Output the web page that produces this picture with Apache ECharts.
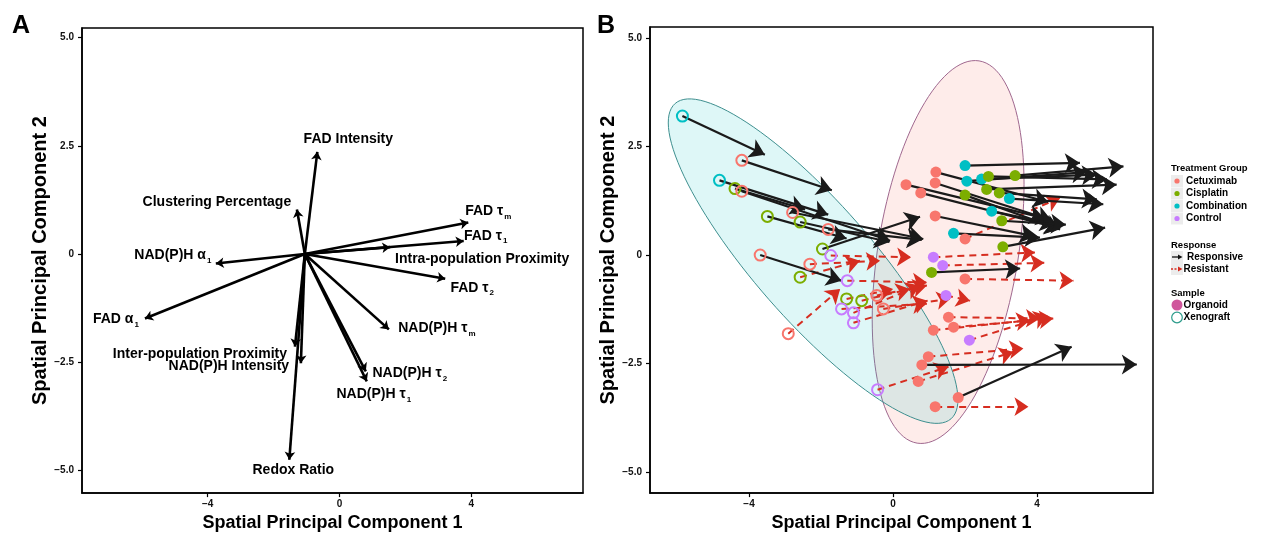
<!DOCTYPE html>
<html><head><meta charset="utf-8">
<script src="https://cdn.jsdelivr.net/npm/echarts@6/dist/echarts.min.js"></script>
<style>html,body{margin:0;padding:0;background:#fff}#c{width:1270px;height:537px}</style>
</head><body><div id="c"></div><script>
// ---------- Panel A: loading vectors ----------
const loadingOrigin = [-1.05, 0];
const loadingNames = ['FAD Intensity','Clustering Percentage','FAD τ','FAD τ','Intra-population Proximity','NAD(P)H α','FAD τ','FAD α','NAD(P)H τ','Inter-population Proximity','NAD(P)H Intensity','NAD(P)H τ','NAD(P)H τ','Redox Ratio'];
const loadingSubs = ['','','m','1','','1','2','1','m','','','2','1',''];
const loadingX = [-0.67,-1.29,3.91,3.77,1.54,-3.75,3.21,-5.90,1.50,-1.35,-1.17,0.80,0.83,-1.52];
const loadingY = [2.36,1.03,0.73,0.30,0.16,-0.22,-0.57,-1.49,-1.74,-2.14,-2.52,-2.71,-2.94,-4.75];

// ---------- Panel B: sample trajectories ----------
const startX = [-5.85,-4.20,-4.82,-4.39,-4.20,-2.79,-3.49,-2.58,-1.80,-1.96,-3.69,-1.73,-2.31,-2.58,-1.27,-1.29,-0.87,-0.45,-1.43,-1.10,-1.10,-0.27,-2.91,-0.43,
  2.00,3.39,2.05,2.46,2.65,2.60,2.95,3.23,2.00,1.19,1.17,0.36,0.77,1.17,1.68,2.74,3.02,2.00,3.05,1.12,1.38,1.07,2.00,1.47,1.54,1.68,1.12,2.12,0.98,0.80,0.70,1.81,1.17];
const startY = [3.20,2.18,1.72,1.53,1.47,0.98,0.89,0.76,0.59,0.14,0.00,-0.01,-0.21,-0.51,-0.59,-1.01,-1.05,-0.93,-1.24,-1.33,-1.56,-1.24,-1.81,-3.10,
  2.06,1.83,1.70,1.75,1.81,1.51,1.43,1.30,1.38,1.91,1.66,1.62,1.43,0.90,0.50,1.01,0.79,0.37,0.19,-0.05,-0.24,-0.40,-0.55,-0.93,-1.43,-1.66,-1.73,-1.96,-2.34,-2.53,-2.91,-3.28,-3.49];
const endX = [-3.56,-1.70,-1.80,-2.44,-0.08,0.84,-1.29,-0.10,0.80,0.75,-1.43,0.50,-0.36,-0.92,0.94,0.00,0.47,0.94,0.94,0.75,0.96,1.60,-1.47,1.54,
  5.19,6.40,5.38,5.66,5.94,6.21,5.66,5.84,4.64,4.31,4.40,4.20,4.64,3.94,4.08,4.50,4.80,4.64,5.89,3.94,4.20,3.53,5.01,2.14,4.08,4.45,3.81,4.30,3.62,6.77,3.34,4.96,3.76];
const endY = [2.31,1.49,0.93,1.05,0.33,0.37,0.38,0.30,0.35,0.88,-0.59,-0.05,-0.13,-0.13,-0.63,-0.78,-0.78,-0.70,-1.12,-0.70,-1.05,-1.00,-0.78,-2.57,
  2.12,2.04,1.91,1.85,1.74,1.62,1.28,1.17,0.59,1.22,0.80,0.85,0.61,0.43,0.40,0.70,0.70,1.32,0.63,0.06,-0.18,-0.31,-0.59,-1.05,-1.46,-1.46,-1.50,-1.40,-2.15,-2.52,-2.23,-2.11,-3.49];
const treatment = ['Combination','Cetuximab','Combination','Cisplatin','Cetuximab','Cetuximab','Cisplatin','Cisplatin','Cetuximab','Cisplatin','Cetuximab','Control','Cetuximab','Cisplatin','Control','Cisplatin','Cisplatin','Cetuximab','Control','Control','Control','Cetuximab','Cetuximab','Control',
  'Combination','Cisplatin','Combination','Combination','Cisplatin','Cisplatin','Cisplatin','Combination','Cisplatin','Cetuximab','Cetuximab','Cetuximab','Cetuximab','Cetuximab','Combination','Combination','Cisplatin','Cetuximab','Cisplatin','Control','Control','Cisplatin','Cetuximab','Control','Cetuximab','Cetuximab','Cetuximab','Control','Cetuximab','Cetuximab','Cetuximab','Cetuximab','Cetuximab'];
const sample = Array(24).fill('Xenograft').concat(Array(33).fill('Organoid'));
const response = Array(11).fill('Responsive').concat(Array(13).fill('Resistant'),
  ['Responsive','Responsive','Responsive','Responsive','Responsive','Responsive','Responsive','Responsive','Responsive','Responsive','Responsive','Responsive','Responsive','Responsive','Responsive','Responsive','Responsive',
   'Resistant','Responsive','Resistant','Resistant','Responsive','Resistant','Resistant','Resistant','Resistant','Resistant','Resistant','Resistant','Responsive','Resistant','Responsive','Resistant']);

// confidence ellipses (centre, two conjugate semi-axis vectors, data units)
const ellipseNames = ['Organoid','Xenograft'];
const ellipseCenter = [[1.53,0.07],[-2.22,-0.14]];
const ellipseAxisU = [[0.86,4.40],[3.83,-3.63]];
const ellipseAxisV = [[1.925,-0.256],[1.23,0.88]];

const xTicks = [-4,0,4];
const yTicks = [-5,-2.5,0,2.5,5];
const treatments = ['Cetuximab','Cisplatin','Combination','Control'];
const treatColors = ['#F8766D','#7CAE00','#00BFC4','#C77CFF'];

// ---------- layout / style ----------
const F = '"Liberation Sans", Arial, Helvetica, sans-serif';
const labelOffsets = [[31,-13],[-80,-7],[20,-11],[22,-5],[92,12],[-43,-8],[27,9],[-29,1],[48,-1],[-95,7],[-72,3],[44,2],[7,13],[4,10]];
const colorOf = t => treatColors[treatments.indexOf(t)];
const minus = s => String(s).replace('-', '\u2212');

function xAxisCfg(gi, min, max) {
  return {gridIndex: gi, type: 'value', min, max, name: 'Spatial Principal Component 1', nameLocation: 'middle', nameGap: 17,
    nameTextStyle: {fontFamily: F, fontWeight: 'bold', fontSize: 18, color: '#000'},
    axisLine: {onZero: false, lineStyle: {color: '#000', width: 1.5}},
    axisTick: {show: true, length: 4, customValues: xTicks, lineStyle: {color: '#000', width: 1.2}},
    axisLabel: {customValues: xTicks, margin: 6, fontFamily: F, fontWeight: 'bold', fontSize: 10, color: '#111', formatter: v => minus(v)},
    splitLine: {show: false}};
}
function yAxisCfg(gi, min, max) {
  return {gridIndex: gi, type: 'value', min, max, name: 'Spatial Principal Component 2', nameLocation: 'middle', nameGap: 30,
    nameTextStyle: {fontFamily: F, fontWeight: 'bold', fontSize: 20, color: '#000'},
    axisLine: {onZero: false, lineStyle: {color: '#000', width: 1.5}},
    axisTick: {show: true, length: 4, customValues: yTicks, lineStyle: {color: '#000', width: 1.2}},
    axisLabel: {customValues: yTicks, margin: 8, fontFamily: F, fontWeight: 'bold', fontSize: 10, color: '#111',
      formatter: v => v === 0 ? '0' : minus(v.toFixed(1))},
    splitLine: {show: false}};
}

const loadLines = loadingX.map((x, i) => ({coords: [loadingOrigin, [x, loadingY[i]]]}));
const loadLabels = loadingX.map((x, i) => ({value: [x, loadingY[i]], label: {offset: labelOffsets[i]}}));

const idx = startX.map((_, i) => i);
const respLines = idx.filter(i => response[i] === 'Responsive').map(i => ({coords: [[startX[i], startY[i]], [endX[i], endY[i]]]}));
const resLines = idx.filter(i => response[i] === 'Resistant').map(i => ({coords: [[startX[i], startY[i]], [endX[i], endY[i]]]}));
const pts = idx.map(i => {
  const c = colorOf(treatment[i]);
  return sample[i] === 'Organoid'
    ? {value: [startX[i], startY[i]], symbolSize: 11, itemStyle: {color: c, borderWidth: 0, opacity: 1}}
    : {value: [startX[i], startY[i]], symbolSize: 11, itemStyle: {color: 'rgba(255,255,255,0)', borderColor: c, borderWidth: 2, opacity: 1}};
});

const ellipseStyle = [
  {fill: 'rgba(248,118,109,0.14)', stroke: '#a0688f'},
  {fill: 'rgba(0,191,196,0.13)', stroke: '#3e8f8f'}
];

const chart = echarts.init(document.getElementById('c'), null, {renderer: 'canvas'});

// legend graphics
const G = [];
G.push({type: 'text', x: 12, y: 14, style: {text: 'A', font: 'bold 25px ' + F, fill: '#000'}});
G.push({type: 'text', x: 597, y: 14, style: {text: 'B', font: 'bold 25px ' + F, fill: '#000'}});
const LX = 1171;
G.push({type: 'text', x: LX, y: 168, style: {text: 'Treatment Group', font: 'bold 9.5px ' + F, fill: '#000', verticalAlign: 'middle'}});
treatments.forEach((t, i) => {
  const y = 181 + i * 12.5;
  G.push({type: 'rect', shape: {x: LX, y: y - 6, width: 12, height: 12}, style: {fill: '#ececec'}});
  G.push({type: 'circle', shape: {cx: LX + 6, cy: y, r: 2.6}, style: {fill: treatColors[i]}});
  G.push({type: 'text', x: LX + 15, y: y, style: {text: t, font: 'bold 10px ' + F, fill: '#000', verticalAlign: 'middle'}});
});
G.push({type: 'text', x: LX, y: 245, style: {text: 'Response', font: 'bold 9.5px ' + F, fill: '#000', verticalAlign: 'middle'}});
G.push({type: 'rect', shape: {x: LX, y: 251, width: 12, height: 12}, style: {fill: '#ececec'}});
G.push({type: 'line', shape: {x1: LX + 1, y1: 257, x2: LX + 8, y2: 257}, style: {stroke: '#111', lineWidth: 1.3}});
G.push({type: 'polygon', shape: {points: [[LX + 7, 254.5], [LX + 11.5, 257], [LX + 7, 259.5]]}, style: {fill: '#111'}});
G.push({type: 'text', x: LX + 16, y: 257, style: {text: 'Responsive', font: 'bold 10px ' + F, fill: '#000', verticalAlign: 'middle'}});
G.push({type: 'rect', shape: {x: LX, y: 263, width: 12, height: 12}, style: {fill: '#ececec'}});
G.push({type: 'line', shape: {x1: LX, y1: 269, x2: LX + 8, y2: 269}, style: {stroke: '#D62D20', lineWidth: 1.3, lineDash: [2, 1.5]}});
G.push({type: 'polygon', shape: {points: [[LX + 7, 266.5], [LX + 11.5, 269], [LX + 7, 271.5]]}, style: {fill: '#D62D20'}});
G.push({type: 'text', x: LX + 12.5, y: 269, style: {text: 'Resistant', font: 'bold 10px ' + F, fill: '#000', verticalAlign: 'middle'}});
G.push({type: 'text', x: LX, y: 293, style: {text: 'Sample', font: 'bold 9.5px ' + F, fill: '#000', verticalAlign: 'middle'}});
G.push({type: 'circle', shape: {cx: LX + 6, cy: 305, r: 5.5}, style: {fill: '#D0579C'}});
G.push({type: 'text', x: LX + 12.5, y: 305, style: {text: 'Organoid', font: 'bold 10px ' + F, fill: '#000', verticalAlign: 'middle'}});
G.push({type: 'circle', shape: {cx: LX + 6, cy: 317.5, r: 5.3}, style: {fill: 'none', stroke: '#2E9C8C', lineWidth: 1.2}});
G.push({type: 'text', x: LX + 12.5, y: 317.5, style: {text: 'Xenograft', font: 'bold 10px ' + F, fill: '#000', verticalAlign: 'middle'}});

chart.setOption({
  animation: false,
  backgroundColor: '#fff',
  grid: [
    {left: 82, top: 28, width: 501, height: 468, show: true, borderColor: '#000', borderWidth: 1.5, backgroundColor: 'rgba(0,0,0,0)'},
    {left: 650, top: 27, width: 503, height: 469, show: true, borderColor: '#000', borderWidth: 1.5, backgroundColor: 'rgba(0,0,0,0)'}
  ],
  xAxis: [xAxisCfg(0, -7.81, 7.39), xAxisCfg(1, -6.75, 7.22)],
  yAxis: [yAxisCfg(0, -5.52, 5.22), yAxisCfg(1, -5.48, 5.25)],
  graphic: G,
  series: [
    {type: 'lines', coordinateSystem: 'cartesian2d', xAxisIndex: 0, yAxisIndex: 0, silent: true,
      symbol: ['none', 'arrow'], symbolSize: [0, 8], lineStyle: {color: '#000', width: 2.6, opacity: 1, curveness: 0},
      data: loadLines, z: 3},
    {type: 'scatter', xAxisIndex: 0, yAxisIndex: 0, symbolSize: 0, silent: true, data: loadLabels, z: 4,
      itemStyle: {opacity: 1},
      label: {show: true, position: 'inside', align: 'center', verticalAlign: 'middle', color: '#000', opacity: 1,
        formatter: p => '{t|' + loadingNames[p.dataIndex] + '}' + (loadingSubs[p.dataIndex] ? '{s|' + loadingSubs[p.dataIndex] + '}' : ''),
        rich: {
          t: {fontFamily: F, fontWeight: 'bold', fontSize: 14, color: '#000', lineHeight: 18},
          s: {fontFamily: F, fontWeight: 'bold', fontSize: 8, color: '#000', lineHeight: 18, verticalAlign: 'bottom', padding: [0, 0, 0, 1]}
        }}},
    {type: 'custom', xAxisIndex: 1, yAxisIndex: 1, silent: true, z: 1, clip: true,
      data: ellipseCenter.map(c => c.slice()),
      renderItem: (params, api) => {
        const k = params.dataIndex, c = ellipseCenter[k], u = ellipseAxisU[k], v = ellipseAxisV[k];
        const p = [];
        for (let j = 0; j < 120; j++) {
          const t = j / 120 * Math.PI * 2, ct = Math.cos(t), st = Math.sin(t);
          p.push(api.coord([c[0] + u[0] * ct + v[0] * st, c[1] + u[1] * ct + v[1] * st]));
        }
        return {type: 'polygon', shape: {points: p}, style: {fill: ellipseStyle[k].fill, stroke: ellipseStyle[k].stroke, lineWidth: 1}};
      }},
    {type: 'lines', coordinateSystem: 'cartesian2d', xAxisIndex: 1, yAxisIndex: 1, silent: true,
      symbol: ['none', 'arrow'], symbolSize: [0, 14], lineStyle: {color: '#D62D20', width: 2, opacity: 1, type: [7, 5]},
      data: resLines, z: 3},
    {type: 'lines', coordinateSystem: 'cartesian2d', xAxisIndex: 1, yAxisIndex: 1, silent: true,
      symbol: ['none', 'arrow'], symbolSize: [0, 15], lineStyle: {color: '#1a1a1a', width: 2.2, opacity: 1},
      data: respLines, z: 3},
    {type: 'scatter', xAxisIndex: 1, yAxisIndex: 1, silent: true, data: pts, z: 5, itemStyle: {opacity: 1}}
  ]
});
</script></body></html>
